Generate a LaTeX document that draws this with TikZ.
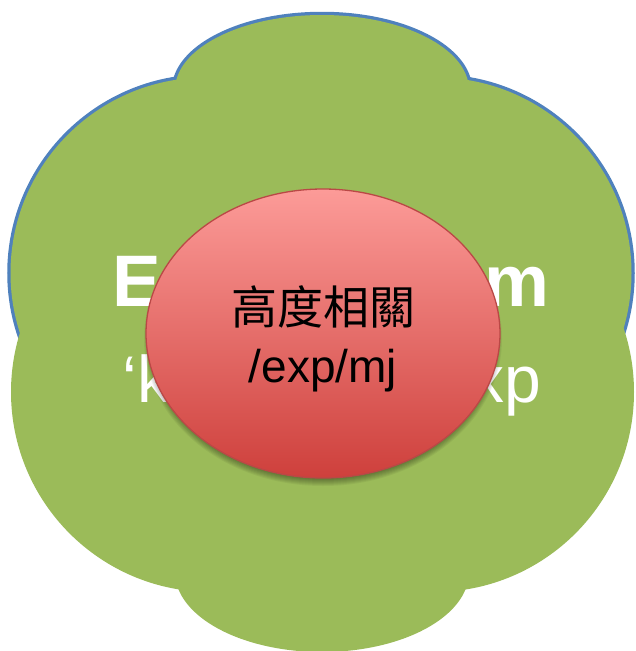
\documentclass[tikz,border=0pt]{standalone}
\usepackage{fontspec}
\setmainfont{Liberation Sans}
\newfontfamily\cjk{Noto Sans CJK TC}
\usetikzlibrary{shapes.geometric}
\definecolor{leaf}{RGB}{155,187,89}
\definecolor{rim}{RGB}{79,129,189}
\definecolor{redtop}{RGB}{252,155,152}
\definecolor{redbot}{RGB}{206,64,60}
\definecolor{redrim}{RGB}{186,72,70}
\begin{document}
\begin{tikzpicture}[x=1pt,y=-1pt,
  rimstroke/.style={draw=rim,line width=6.5pt},
  leaffill/.style={fill=leaf},
  whitebig/.style={text=white,inner sep=0pt,font=\fontsize{73}{80}\selectfont\bfseries},
  whitesmall/.style={text=white,inner sep=0pt,font=\fontsize{66}{72}\selectfont},
  shadowlayer/.style={fill=black,opacity=0.05},
  corebox/.style={ellipse,inner sep=0pt,minimum width=354pt,minimum height=289pt,
    draw=redrim,line width=1.3pt,top color=redtop,bottom color=redbot},
  corelabel/.style={align=center,inner sep=0pt,text=black,font=\fontsize{46}{58}\selectfont}
]
\useasboundingbox (0,0) rectangle (635,651);
% upper cloud: outline then fill
\path[rimstroke] (322,90) ellipse [x radius=147,y radius=75];
\path[rimstroke] (206,273) circle [radius=195.5];
\path[rimstroke] (436,273) circle [radius=195.5];
\path[leaffill] (322,90) ellipse [x radius=147,y radius=75];
\path[leaffill] (206,273) circle [radius=195.5];
\path[leaffill] (436,273) circle [radius=195.5];
% lower cloud
\path[leaffill] (211,392) circle [radius=200];
\path[leaffill] (434,392) circle [radius=200];
\path[leaffill] (322,572) ellipse [x radius=147,y radius=80];
% white text fragments
\node[whitebig,anchor=base west] (tE) at (112.7,306) {E};
\node[whitebig,anchor=base east] (tm) at (549.5,306) {m};
\node[whitesmall,anchor=base west] (tk) at (122.5,402) {‘k};
\node[whitesmall,anchor=base east] (txp) at (541,402) {xp};
% shadow
\foreach \i in {0,...,7}
  \path[shadowlayer] (323,339) ellipse [x radius=172+\i,y radius=140+\i];
% red ellipse
\node[corebox] (core) at (323,333.5) {};
\node[corelabel] (coretext) at (323,338.5) {{\cjk 高度相關}\\/exp/mj};
\end{tikzpicture}
\end{document}
